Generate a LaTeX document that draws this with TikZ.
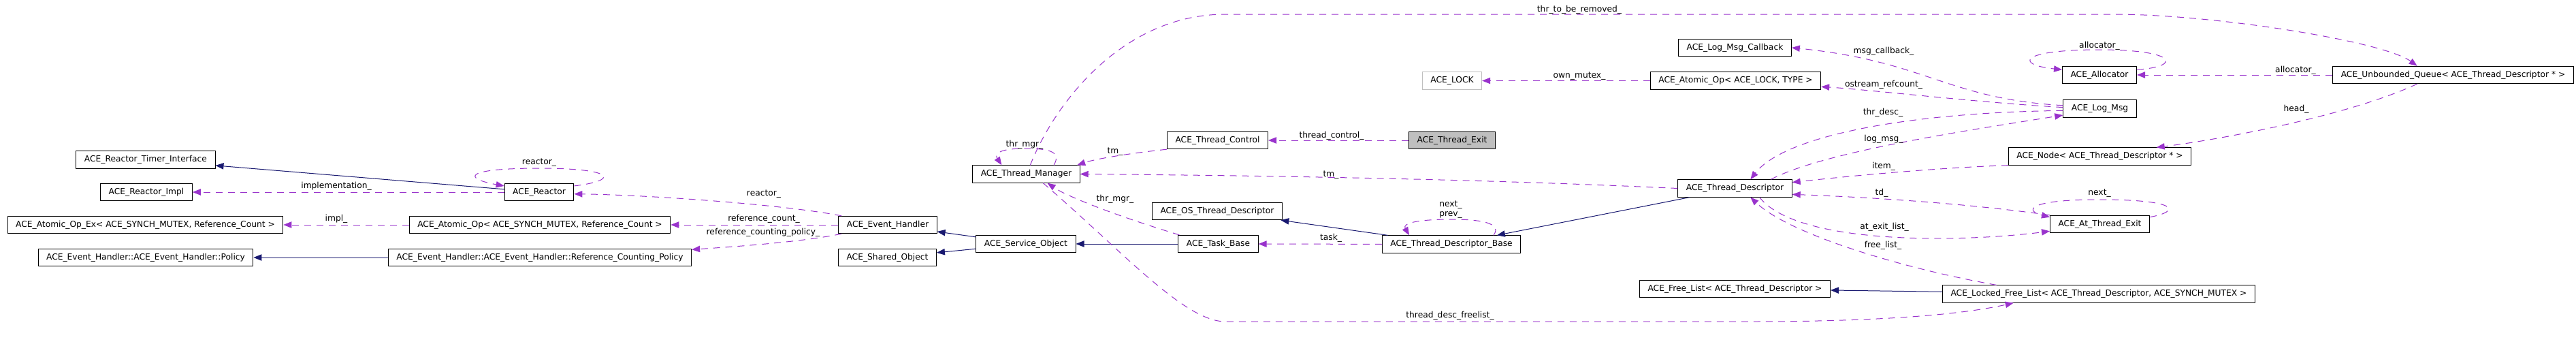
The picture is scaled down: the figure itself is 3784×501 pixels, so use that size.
\documentclass[tikz,border=0pt]{standalone}
\usepackage{fontspec}
\setmainfont{DejaVu Sans}
\usepackage{tikz}
\usetikzlibrary{arrows.meta}
\tikzset{cls/.style = {draw, line width=0.75pt, minimum height=19pt,
                       inner xsep=9pt, inner ysep=0pt,
                       font=\fontsize{9.2}{11}\selectfont}}
\tikzset{lbl/.style = {inner sep=0pt, font=\fontsize{9.2}{11}\selectfont}}
\tikzset{inh/.style = {mnavy, line width=0.75pt,
                       -{Triangle[length=9pt, width=7pt]}}}
\tikzset{collab/.style = {morchid, line width=0.75pt, dash pattern=on 7.5pt off 6pt,
                          -{Triangle[length=9pt, width=7pt]}}}
\definecolor{mnavy}{rgb}{0.1, 0.1, 0.44}
\definecolor{morchid}{rgb}{0.6, 0.2, 0.8}
\definecolor{mgrey}{rgb}{0.75, 0.75, 0.75}

\begin{document}
\begin{tikzpicture}[x=0.75pt, y=-0.75pt]
      \useasboundingbox (0, 0) rectangle (3784, 501);

      \node [cls] (rti) at (214, 234.5) {ACE\_Reactor\_Timer\_Interface};
      \node [cls] (rimpl) at (215, 282) {ACE\_Reactor\_Impl};
      \node [cls] (aoex) at (213.5, 330) {ACE\_Atomic\_Op\_Ex< ACE\_SYNCH\_MUTEX, Reference\_Count >};
      \node [cls] (policy) at (214, 378) {ACE\_Event\_Handler::ACE\_Event\_Handler::Policy};
      \node [cls] (reactor) at (792, 282) {ACE\_Reactor};
      \node [cls] (aosm) at (793, 330) {ACE\_Atomic\_Op< ACE\_SYNCH\_MUTEX, Reference\_Count >};
      \node [cls] (rcp) at (793, 378) {ACE\_Event\_Handler::ACE\_Event\_Handler::Reference\_Counting\_Policy};
      \node [cls] (evh) at (1304, 330) {ACE\_Event\_Handler};
      \node [cls] (shobj) at (1303.5, 378) {ACE\_Shared\_Object};
      \node [cls] (svcobj) at (1507, 358) {ACE\_Service\_Object};
      \node [cls] (thrmgr) at (1507.5, 255.5) {ACE\_Thread\_Manager};
      \node [cls] (thrctl) at (1788.5, 206) {ACE\_Thread\_Control};
      \node [cls, fill=mgrey] (threxit) at (2133, 206) {ACE\_Thread\_Exit};
      \node [cls] (osdesc) at (1788, 310) {ACE\_OS\_Thread\_Descriptor};
      \node [cls] (taskb) at (1789.5, 358) {ACE\_Task\_Base};
      \node [cls] (descb) at (2132, 358.5) {ACE\_Thread\_Descriptor\_Base};
      \node [cls] (desc) at (2548.5, 276.5) {ACE\_Thread\_Descriptor};
      \node [cls, draw=mgrey] (lock) at (2133, 118.5) {ACE\_LOCK};
      \node [cls] (aolock) at (2549.5, 118.5) {ACE\_Atomic\_Op< ACE\_LOCK, TYPE >};
      \node [cls] (logcb) at (2548.5, 70) {ACE\_Log\_Msg\_Callback};
      \node [cls] (logmsg) at (3084.5, 159.5) {ACE\_Log\_Msg};
      \node [cls] (alloc) at (3084, 110) {ACE\_Allocator};
      \node [cls] (queue) at (3603.5, 110) {ACE\_Unbounded\_Queue< ACE\_Thread\_Descriptor * >};
      \node [cls] (dnode) at (3084.5, 229.5) {ACE\_Node< ACE\_Thread\_Descriptor * >};
      \node [cls] (atexit) at (3084.5, 329) {ACE\_At\_Thread\_Exit};
      \node [cls] (flist) at (2548.5, 424) {ACE\_Free\_List< ACE\_Thread\_Descriptor >};
      \node [cls] (lflist) at (3083, 431.5) {ACE\_Locked\_Free\_List< ACE\_Thread\_Descriptor, ACE\_SYNCH\_MUTEX >};

      \draw [inh] (reactor) -- (rti);
      \draw [inh] (rcp) -- (policy);
      \draw [inh] (svcobj) -- (evh);
      \draw [inh] (svcobj) -- (shobj);
      \draw [inh] (taskb) -- (svcobj);
      \draw [inh] (descb) -- (osdesc);
      \draw [inh] (desc) -- (descb);
      \draw [inh] (lflist) -- (flist);

      \draw [collab] (reactor) -- (rimpl);
      \draw [collab] (reactor.10) .. controls (910, 265) and (905, 247) .. (792, 247) .. controls (680, 247) and (680, 262) .. (reactor.170);
      \draw [collab] (evh.169) .. controls (1150, 300) and (950, 286) .. (reactor.-3);
      \draw [collab] (evh) -- (aosm);
      \draw [collab] (evh.191) .. controls (1180, 355) and (1080, 362) .. (rcp.3);
      \draw [collab] (aosm) -- (aoex);

      \draw [collab] (thrmgr.18) .. controls (1560, 222) and (1540, 218) .. (1505, 218) .. controls (1470, 218) and (1460, 225) .. (thrmgr.160);
      \draw [collab] (thrmgr.66) .. controls (1550, 150) and (1650, 21) .. (1800, 21) -- (3106, 21) .. controls (3250, 21) and (3500, 60) .. (queue.166);
      \draw [collab] (thrctl.south west) .. controls (1660, 225) and (1610, 233) .. (thrmgr.10);
      \draw [collab] (desc.west) .. controls (2200, 264) and (1900, 258) .. (thrmgr.east);
      \draw [collab] (taskb.167) .. controls (1650, 320) and (1570, 290) .. (thrmgr.-23);
      \draw [collab] (thrmgr.-28) .. controls (1650, 370) and (1740, 472) .. (1800, 472) -- (2572, 472) .. controls (2760, 472) and (2880, 462) .. (lflist.186);
      \draw [collab] (threxit) -- (thrctl);
      \draw [collab] (descb) -- (taskb);
      \draw [collab] (descb.12) .. controls (2205, 330) and (2185, 322) .. (2132, 322) .. controls (2080, 322) and (2060, 328) .. (descb.168);

      \draw [collab] (queue) -- (alloc);
      \draw [collab] (alloc.8) .. controls (3205, 98) and (3200, 73) .. (3084, 73) .. controls (2965, 73) and (2960, 95) .. (alloc.172);
      \draw [collab] (queue.194) .. controls (3450, 170) and (3260, 205) .. (dnode.9);
      \draw [collab] (dnode.south west) .. controls (2850, 246) and (2720, 258) .. (desc.6);
      \draw [collab] (atexit.north west) .. controls (2900, 300) and (2760, 290) .. (desc.-6);
      \draw [collab] (desc.-20) .. controls (2640, 360) and (2880, 356) .. (atexit.188);
      \draw [collab] (lflist.175) .. controls (2800, 395) and (2630, 345) .. (desc.-30);
      \draw [collab] (atexit.8) .. controls (3205, 310) and (3200, 293) .. (3084, 293) .. controls (2975, 293) and (2975, 310) .. (atexit.172);

      \draw [collab] (logmsg.175) .. controls (2860, 145) and (2830, 90) .. (logcb.east);
      \draw [collab] (logmsg.178) .. controls (2900, 150) and (2750, 132) .. (aolock.-4);
      \draw [collab] (logmsg.183) .. controls (2800, 165) and (2620, 200) .. (desc.30);
      \draw [collab] (desc.14) .. controls (2680, 222) and (2900, 190) .. (logmsg.190);
      \draw [collab] (aolock) -- (lock);

      \node [lbl] (limpl) at (494, 273) {implementation\_};
      \node [lbl] (lreactor) at (792, 239) {reactor\_};
      \node [lbl] (lreactorb) at (1122, 285) {reactor\_};
      \node [lbl] (limplb) at (494, 321) {impl\_};
      \node [lbl] (lrefcnt) at (1122, 321) {reference\_count\_};
      \node [lbl] (lrefpol) at (1121, 341) {reference\_counting\_policy\_};
      \node [lbl] (lthrmgr) at (1505, 212) {thr\_mgr\_};
      \node [lbl] (lthrmgrb) at (1638, 292) {thr\_mgr\_};
      \node [lbl] (ltm) at (1638, 223) {tm\_};
      \node [lbl] (ltmb) at (1955, 257) {tm\_};
      \node [lbl] (lremoved) at (2320, 14) {thr\_to\_be\_removed\_};
      \node [lbl] (lctl) at (1956, 199) {thread\_control\_};
      \node [lbl] (ltask) at (1955, 349) {task\_};
      \node [lbl, align=center] (lnext) at (2131, 307.5) {next\_\\prev\_};
      \node [lbl] (lfreelist) at (2130, 463) {thread\_desc\_freelist\_};
      \node [lbl] (lmutex) at (2320, 112) {own\_mutex\_};
      \node [lbl] (lmsgcb) at (2767, 75) {msg\_callback\_};
      \node [lbl] (lostream) at (2767, 124) {ostream\_refcount\_};
      \node [lbl] (lthrdesc) at (2766, 165) {thr\_desc\_};
      \node [lbl] (llogmsg) at (2767, 204) {log\_msg\_};
      \node [lbl] (litem) at (2767, 244) {item\_};
      \node [lbl] (ltd) at (2764, 283) {td\_};
      \node [lbl] (lexitlist) at (2768, 333) {at\_exit\_list\_};
      \node [lbl] (lfree) at (2766, 360) {free\_list\_};
      \node [lbl] (lalloc) at (3084, 67) {allocator\_};
      \node [lbl] (lallocb) at (3372, 103) {allocator\_};
      \node [lbl] (lhead) at (3373, 160) {head\_};
      \node [lbl] (lnextb) at (3084, 284) {next\_};
    \end{tikzpicture}
\end{document}
